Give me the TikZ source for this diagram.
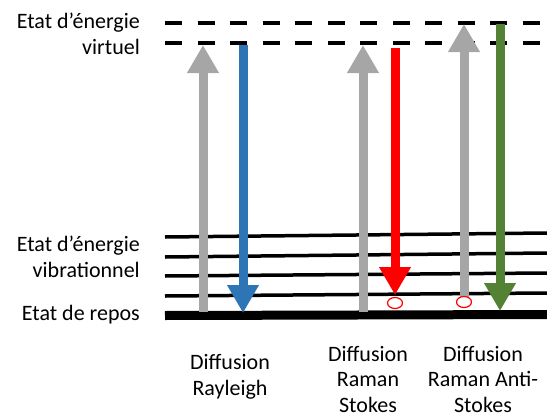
\documentclass[tikz,border=0pt]{standalone}
\usepackage{fontspec}
\setmainfont{Carlito}
\usetikzlibrary{arrows.meta}
\definecolor{colPump}{HTML}{A6A6A6}
\definecolor{colRayleigh}{HTML}{2E75B6}
\definecolor{colStokes}{HTML}{FF0000}
\definecolor{colAnti}{HTML}{548235}

\begin{document}
\begin{tikzpicture}[
    x=1pt, y=-1pt,
    levellabel/.style={
        anchor=east, align=right, inner sep=0pt,
        font=\fontsize{22}{26}\selectfont
    },
    scattercap/.style={
        anchor=center, align=center, inner sep=0pt,
        font=\fontsize{22}{25.5}\selectfont
    },
    virtline/.style={line width=4pt, dash pattern=on 17pt off 15.5pt},
    vibline/.style={line width=3.5pt},
    groundline/.style={line width=9pt},
    photon/.style={line width=9pt, -{Triangle[length=28pt, width=30pt]}},
    holemark/.style={draw=colStokes, line width=1.2pt, fill=white}
]
    \useasboundingbox (0,0) rectangle (547,418);

    % --- LEVELS ---
    \coordinate (virtA) at (165,23);
    \coordinate (virtB) at (165,43);
    \draw[virtline] (virtA) -- (547,23);
    \draw[virtline] (virtB) -- (547,43);
    \foreach \i/\yl/\yr in {1/237/233, 2/257/253, 3/276/273, 4/296/293} {
        \coordinate (vib\i) at (165,\yl);
        \draw[vibline] (vib\i) -- (547,\yr);
    }
    \coordinate (ground) at (165,315.5);
    \draw[groundline] (ground) -- (547,314.5);

    % --- LEVEL LABELS ---
    \node[levellabel] (lblvirt) at (140,34) {Etat d’énergie\\virtuel};
    \node[levellabel] (lblvib) at (140,257) {Etat d’énergie\\vibrationnel};
    \node[levellabel] (lblrepos) at (140,315) {Etat de repos};

    % --- PHOTONS ---
    \foreach \name/\x/\ya/\yb in {
        rayUp/203/312/45, rayDown/243/45/313,
        stkUp/363/312/45, stkDown/395/48/295,
        antiUp/464/300/24, antiDown/500/24/311
    } {
        \coordinate (\name A) at (\x,\ya);
        \coordinate (\name B) at (\x,\yb);
    }
    \draw[photon, colPump] (rayUpA) -- (rayUpB);
    \draw[photon, colRayleigh] (rayDownA) -- (rayDownB);
    \draw[photon, colPump] (stkUpA) -- (stkUpB);
    \draw[photon, colStokes] (stkDownA) -- (stkDownB);
    \draw[photon, colPump] (antiUpA) -- (antiUpB);
    \draw[photon, colAnti] (antiDownA) -- (antiDownB);

    % --- HOLES ---
    \coordinate (holeStk) at (395,303);
    \coordinate (holeAnti) at (464,302);
    \draw[holemark] (holeStk) ellipse [x radius=7.5, y radius=5.5];
    \draw[holemark] (holeAnti) ellipse [x radius=7.5, y radius=5.5];

    % --- CAPTIONS ---
    \node[scattercap] (capRay) at (230,377) {Diffusion\\Rayleigh};
    \node[scattercap] (capStk) at (368,379) {Diffusion\\Raman\\Stokes};
    \node[scattercap] (capAnti) at (483,379) {Diffusion\\Raman Anti-\\Stokes};
\end{tikzpicture}
\end{document}
